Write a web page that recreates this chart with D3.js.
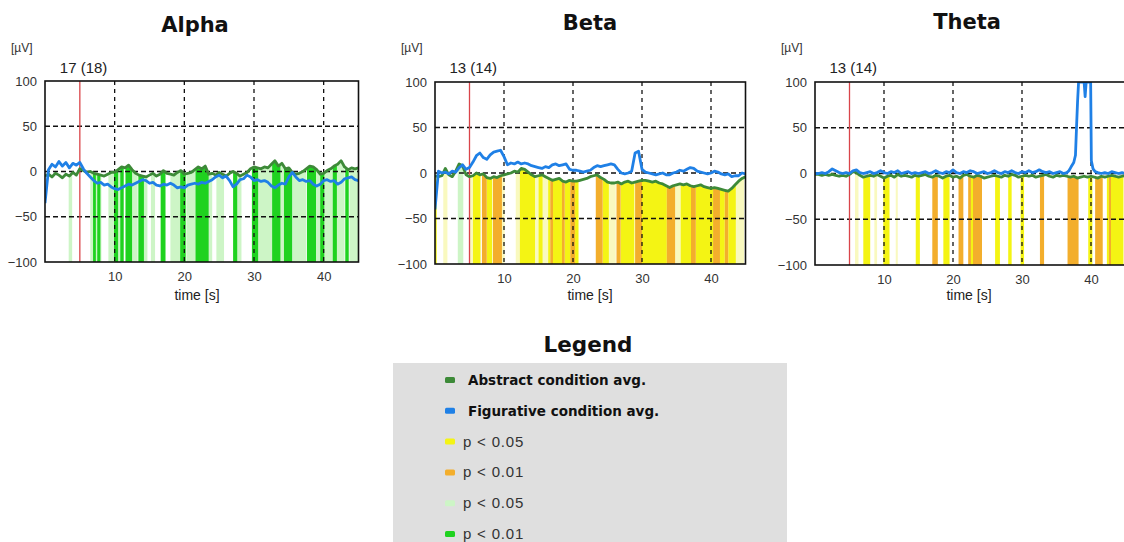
<!DOCTYPE html>
<html><head><meta charset="utf-8">
<script src="https://cdn.jsdelivr.net/npm/d3@7"></script>
<style>body{margin:0;background:#fff;} svg{display:block;}</style>
</head><body>
<svg id="chart" width="1124" height="542"></svg>
<script>
// ================= DATA =================
const panelNames = ["Alpha", "Beta", "Theta"];
const subjectLabels = ["17 (18)", "13 (14)", "13 (14)"];
const unitLabel = "[\u00b5V]";
const xAxisLabel = "time [s]";
const markerTime = 5;                 // red vertical marker (s)
const xDomain = [0, 45];
const yDomain = [-100, 100];
const xTicks = [10, 20, 30, 40];
const yTicks = [-100, -50, 0, 50, 100];
const yGrid = [-50, 0, 50];
const timeStep = 0.5;                 // sampling step of the averaged series (s), starting at 0

// Alpha band
const alphaAbstract = [
 -5,-3,-6,-2,-4,-7,-3,-5,-1,-4,
  3, 1,-1, 0,-2,-3,-4,-5,-3,-1,
 -1, 2, 5, 4, 7, 2,-2,-4,-5,-6,
 -4,-2,-5,-3, 1,-2,-3,-4,-1, 1,
 -3,-2,-1, 2, 5, 3, 6,-3,-2,-4,
 -1,-3,-5,-2, 0,-2,-5,-3,-1, 3,
  5, 4, 3, 5, 4, 8,12, 6, 9, 3,
  4,-1,-3,-2, 0, 3, 6, 5, 2,-3,
 -2, 1, 3, 6, 8,12, 5, 2, 4, 3, 4];
const alphaFigurative = [
-35, 2, 8, 5,11, 6,10, 4, 9, 7,
 10, 3,-2,-6,-10,-13,-12,-15,-14,-17,
-19,-20,-18,-16,-14,-15,-13,-11,-9,-10,
-13,-12,-15,-16,-14,-15,-13,-15,-18,-17,
-18,-15,-14,-13,-14,-12,-13,-11,-9,-6,
 -4,-7,-5,-10,-17,-14,-9,-8,-4,-6,
-10,-9,-11,-10,-12,-16,-18,-15,-13,-14,
 -6,-1,-6,-10,-9,-11,-10,-14,-16,-14,
-10,-9,-11,-10,-14,-12,-8,-7,-6,-9,-10];
// significance intervals [start s, end s, class]  lg: p<0.05 (abstract), g: p<0.01 (abstract)
const alphaSignificance = [
 [3.4,3.9,"lg"],[6.5,8.1,"lg"],[6.9,7.3,"g"],[7.5,7.95,"g"],[9.1,10.1,"lg"],[9.9,10.5,"g"],
 [10.5,10.8,"lg"],[10.8,11.3,"g"],[11.55,12.5,"g"],[12.5,13.3,"lg"],[13.4,14.2,"g"],[14.2,14.7,"lg"],
 [15.2,15.8,"lg"],[16.6,17.3,"g"],[18.0,19.4,"lg"],[19.4,20.2,"g"],[20.3,21.6,"lg"],[21.6,23.5,"g"],
 [23.5,24.0,"lg"],[24.6,25.7,"lg"],[27.0,27.6,"g"],[27.6,28.2,"lg"],[29.7,30.6,"g"],[30.6,32.6,"lg"],
 [32.6,33.8,"g"],[33.8,34.3,"lg"],[34.3,35.5,"g"],[35.6,37.5,"lg"],[37.6,38.9,"g"],[38.9,39.5,"lg"],
 [39.5,40.1,"g"],[40.1,41.3,"lg"],[41.3,41.9,"g"],[41.9,43.0,"lg"],[43.1,43.6,"g"],[43.7,45.0,"lg"]];

// Beta band
const betaAbstract = [
 -3,-4,-3, 5,-2,-4, 2,10, 8,-2,
 -4,-3, 0,-2,-1,-5,-6,-4,-5,-3,
 -2,-1, 0, 2, 1, 5, 4, 1,-2,-4,
 -3,-2,-4,-6,-8,-7,-6,-9,-10,-8,
 -9,-9,-8,-7,-6,-4,-3,-2,-5,-7,
-10,-11,-11,-10,-12,-10,-9,-11,-10,-9,
 -8,-8,-9,-10,-9,-11,-12,-14,-16,-14,
-13,-12,-13,-12,-14,-15,-14,-13,-15,-16,
-17,-16,-17,-18,-19,-20,-17,-13,-9,-6,-4];
const betaFigurative = [
-40, 2, 0, 1,-1, 2, 1, 6, 9, 4,
  6,12,19,22,17,15,20,23,24,25,
 18, 9,11,10,12,10,11,10, 8, 7,
  6, 5, 7, 6, 9,10, 8, 9,10, 4,
  3, 3, 2, 1, 2, 3, 6, 8, 7, 8,
  9,10, 9, 4, 0,-1, 0, 2,22,24,
  4, 1, 0,-1,-2,-1, 0,-2,-2, 0,
  1, 3, 2, 4, 6, 5, 2, 1, 0,-1,
  0, 2, 1,-1,-2,-1,-4,-3,-3, 0,-1];
// y: p<0.05, o: p<0.01, ly: p<0.05 (faint), lg: p<0.05 (abstract)
const betaSignificance = [
 [0,0.25,"y"],[1.2,1.8,"ly"],[3.3,4.1,"lg"],[5.0,5.5,"ly"],[5.5,6.6,"y"],[6.8,7.5,"o"],[7.5,8.3,"y"],
 [8.4,9.7,"o"],[9.7,10.1,"ly"],[11.7,12.3,"ly"],[12.3,14.5,"y"],[14.5,15.0,"ly"],[15.0,15.6,"y"],
 [15.6,16.4,"ly"],[16.4,16.7,"y"],[16.7,17.1,"o"],[17.1,18.4,"y"],[18.4,18.8,"o"],[18.8,19.6,"y"],
 [19.6,20.3,"o"],[20.3,20.8,"y"],[23.3,24.3,"o"],[24.3,25.2,"y"],[25.2,26.2,"ly"],[26.3,26.9,"o"],
 [26.9,28.9,"y"],[29.0,30.0,"o"],[30.0,33.6,"y"],[33.6,34.8,"o"],[34.8,35.6,"ly"],[35.6,37.1,"y"],
 [37.1,37.8,"o"],[37.8,40.3,"y"],[40.3,41.3,"o"],[41.3,42.0,"y"],[42.0,42.5,"o"],[42.5,43.6,"y"],
 [43.6,44.8,"ly"]];

// Theta band
const thetaAbstract = [
 -1,-1,-2,-1,-2,-1,-2,-3,-2,-3,
 -1, 2, 1,-2,-4,-3,-2,-3,-1,-3,
 -5,-3,-2,-4,-1,-3,-2,-3,-4,-2,
 -3,-2,-1,-3,-4,-2,-3,-5,-3,-2,
 -4,-3,-5,-2,-1,-3,-4,-2,-3,-5,
 -4,-3,-2,-3,-4,-2,-3,-1,-2,-4,
 -3,-2,-3,-2,-4,-3,-2,-1,-3,-4,
 -2,-3,-2,-3,-4,-3,-5,-4,-3,-4,
 -3,-4,-5,-3,-4,-3,-2,-3,-4,-3,-2];
// Theta figurative has a clipped peak, so it is given as [time s, value] pairs
const thetaFigurative = [
 [0,0],[0.5,0],[1,1],[1.5,0],[2,2],[2.5,5],[3,3],[3.5,1],[4,0],[4.5,1],
 [5,0],[5.5,3],[6,4],[6.5,1],[7,0],[7.5,1],[8,2],[8.5,0],[9,1],[9.5,3],
 [10,1],[10.5,0],[11,2],[11.5,1],[12,3],[12.5,0],[13,1],[13.5,2],[14,0],[14.5,1],
 [15,0],[15.5,1],[16,2],[16.5,0],[17,1],[17.5,3],[18,1],[18.5,0],[19,2],[19.5,1],
 [20,4],[20.5,1],[21,0],[21.5,2],[22,1],[22.5,3],[23,2],[23.5,0],[24,1],[24.5,2],
 [25,0],[25.5,1],[26,3],[26.5,1],[27,0],[27.5,2],[28,1],[28.5,3],[29,1],[29.5,0],
 [30,2],[30.5,1],[31,3],[31.5,1],[32,2],[32.5,4],[33,2],[33.5,1],[34,2],[34.5,0],
 [35,1],[35.5,2],[36,0],[36.5,1],[36.8,3],[37.1,7],[37.5,12],[37.75,20],[37.9,50],[38.05,78],
 [38.2,100],[39.0,100],[39.15,84],[39.3,100],[39.95,100],[40.05,14],[40.3,5],[40.6,2],[41,1],[41.5,0],
 [42,1],[42.5,0],[43,2],[43.5,1],[44,0],[44.5,1],[45,0]];
const thetaSignificance = [
 [5.8,6.3,"ly"],[7.0,8.0,"y"],[8.6,9.0,"ly"],[9.9,10.8,"y"],[11.7,12.0,"ly"],[14.6,15.2,"y"],
 [17.0,17.8,"o"],[18.6,19.5,"y"],[20.8,21.5,"o"],[22.2,22.6,"o"],[22.6,22.9,"y"],[22.9,24.2,"o"],
 [26.1,26.8,"y"],[28.0,28.5,"y"],[29.8,30.3,"y"],[32.6,33.2,"o"],[36.6,38.2,"o"],[39.6,40.2,"y"],
 [40.6,41.7,"o"],[42.3,42.6,"y"],[42.6,42.9,"o"],[42.9,44.7,"y"]];

const legendLabels = ["Abstract condition avg.", "Figurative condition avg.", "p < 0.05", "p < 0.01", "p < 0.05", "p < 0.01"];
const legendKeys = ["abstract", "figurative", "y", "o", "lg", "g"];
const legendTitle = "Legend";

// ================= STYLE / LAYOUT =================
const colors = {
  abstract: "#3d8a38", figurative: "#1f80e6",
  y: "#f4f414", o: "#f3ae2c", ly: "#f9f9bf", lg: "#cdf5c6", g: "#1fd21f"
};
const drawOrder = {ly: 0, lg: 0, y: 1, o: 2, g: 2};
const layout = [
  {left: 45,  top: 81, width: 313.5, height: 181, titleX: 195, titleY: 31.5, xlabX: 197},
  {left: 435, top: 82, width: 310.5, height: 182, titleX: 590, titleY: 29.5, xlabX: 590},
  {left: 815, top: 82, width: 310.5, height: 183, titleX: 967, titleY: 28.5, xlabX: 969}
];

const toPoints = vals => vals.map((v, i) => [i * timeStep, v]);
const panels = [
  {abstract: toPoints(alphaAbstract), figurative: toPoints(alphaFigurative), sig: alphaSignificance},
  {abstract: toPoints(betaAbstract),  figurative: toPoints(betaFigurative),  sig: betaSignificance},
  {abstract: toPoints(thetaAbstract), figurative: thetaFigurative,           sig: thetaSignificance}
];

function interp(points, t) {
  const i = d3.bisector(d => d[0]).left(points, t);
  if (i <= 0) return points[0][1];
  if (i >= points.length) return points[points.length - 1][1];
  const a = points[i - 1], b = points[i];
  const f = (t - a[0]) / (b[0] - a[0]);
  return a[1] + f * (b[1] - a[1]);
}

const svg = d3.select("#chart");
const tickFont = "'Liberation Sans', Arial, sans-serif";
const titleFont = "'DejaVu Sans', Verdana, sans-serif";

panels.forEach((p, k) => {
  const L = layout[k];
  const x = d3.scaleLinear().domain(xDomain).range([L.left, L.left + L.width]);
  const y = d3.scaleLinear().domain(yDomain).range([L.top + L.height, L.top]);
  const g = svg.append("g");

  const clipId = "clip" + k;
  svg.append("clipPath").attr("id", clipId).append("rect")
    .attr("x", L.left).attr("y", L.top).attr("width", L.width).attr("height", L.height);

  // title
  g.append("text").attr("x", L.titleX).attr("y", L.titleY).attr("text-anchor", "middle")
    .style("font-family", titleFont).style("font-weight", "bold").style("font-size", "21px")
    .attr("fill", "#111").text(panelNames[k]);
  // unit
  g.append("text").attr("x", L.left - 34).attr("y", 52)
    .style("font-family", tickFont).style("font-size", "12px").attr("fill", "#333").text(unitLabel);
  // subject count label
  g.append("text").attr("x", x(markerTime) - 20).attr("y", 73)
    .style("font-family", tickFont).style("font-size", "15px").attr("fill", "#222").text(subjectLabels[k]);

  const plot = g.append("g").attr("clip-path", `url(#${clipId})`);

  // significance bars (from bottom up to the abstract average)
  const area = d3.area().x(d => x(d[0])).y0(y(yDomain[0])).y1(d => y(d[1]));
  const sig = p.sig.slice().sort((a, b) => drawOrder[a[2]] - drawOrder[b[2]]);
  sig.forEach(s => {
    const pts = [[s[0], interp(p.abstract, s[0])]];
    p.abstract.forEach(d => { if (d[0] > s[0] && d[0] < s[1]) pts.push(d); });
    pts.push([s[1], interp(p.abstract, s[1])]);
    plot.append("path").attr("d", area(pts)).attr("fill", colors[s[2]]);
  });

  // grid
  xTicks.forEach(t => plot.append("line").attr("x1", x(t)).attr("x2", x(t))
    .attr("y1", L.top).attr("y2", L.top + L.height)
    .attr("stroke", "#111").attr("stroke-width", 1.3).attr("stroke-dasharray", "4,4"));
  yGrid.forEach(v => plot.append("line").attr("y1", y(v)).attr("y2", y(v))
    .attr("x1", L.left).attr("x2", L.left + L.width)
    .attr("stroke", "#111").attr("stroke-width", 1.3).attr("stroke-dasharray", "5,3"));

  // marker
  plot.append("line").attr("x1", x(markerTime)).attr("x2", x(markerTime))
    .attr("y1", L.top).attr("y2", L.top + L.height)
    .attr("stroke", "#d9454a").attr("stroke-width", 1.3);

  // series
  const line = d3.line().x(d => x(d[0])).y(d => y(d[1]));
  plot.append("path").attr("d", line(p.abstract)).attr("fill", "none")
    .attr("stroke", colors.abstract).attr("stroke-width", 2.8).attr("stroke-linejoin", "round");
  plot.append("path").attr("d", line(p.figurative)).attr("fill", "none")
    .attr("stroke", colors.figurative).attr("stroke-width", 2.8).attr("stroke-linejoin", "round");

  // frame
  g.append("rect").attr("x", L.left).attr("y", L.top).attr("width", L.width).attr("height", L.height)
    .attr("fill", "none").attr("stroke", "#111").attr("stroke-width", 1.6);

  // axes
  const ya = g.append("g").attr("transform", `translate(${L.left},0)`)
    .call(d3.axisLeft(y).tickValues(yTicks).tickSize(0).tickPadding(8));
  const xa = g.append("g").attr("transform", `translate(0,${L.top + L.height})`)
    .call(d3.axisBottom(x).tickValues(xTicks).tickSize(0).tickPadding(10));
  [ya, xa].forEach(a => {
    a.select(".domain").remove();
    a.selectAll("text").style("font-family", tickFont).style("font-size", "13px").attr("fill", "#333");
  });

  g.append("text").attr("x", L.xlabX).attr("y", 300).attr("text-anchor", "middle")
    .style("font-family", tickFont).style("font-size", "14px").attr("fill", "#222").text(xAxisLabel);
});

// ================= LEGEND =================
svg.append("text").attr("x", 588).attr("y", 352).attr("text-anchor", "middle")
  .style("font-family", titleFont).style("font-weight", "bold").style("font-size", "21.5px")
  .attr("fill", "#111").text(legendTitle);
svg.append("rect").attr("x", 393).attr("y", 363).attr("width", 394).attr("height", 200).attr("fill", "#dfdfdf");

const rowY = d3.scalePoint().domain(d3.range(legendLabels.length)).range([385, 539]);
legendLabels.forEach((lab, i) => {
  const by = rowY(i);
  svg.append("rect").attr("x", 445).attr("y", by - 8).attr("width", 10).attr("height", 6).attr("rx", 1.5)
    .attr("fill", colors[legendKeys[i]]);
  const bold = i < 2;
  svg.append("text").attr("x", bold ? 468 : 463).attr("y", by)
    .style("font-family", bold ? titleFont : tickFont)
    .style("font-weight", bold ? "bold" : "normal")
    .style("font-size", bold ? "13.5px" : "15px")
    .style("letter-spacing", bold ? "0px" : "0.8px")
    .attr("fill", bold ? "#111" : "#333").text(lab);
});
</script>
</body></html>
